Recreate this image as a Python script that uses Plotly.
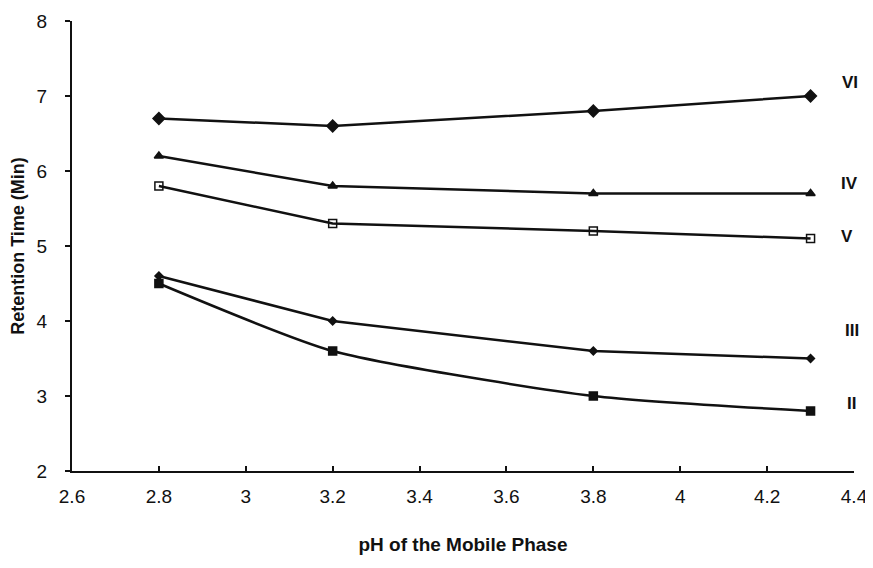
import plotly.graph_objects as go

ph = [2.8, 3.2, 3.8, 4.3]
vi = [6.7, 6.6, 6.8, 7.0]
iv = [6.2, 5.8, 5.7, 5.7]
v = [5.8, 5.3, 5.2, 5.1]
iii = [4.6, 4.0, 3.6, 3.5]
ii = [4.5, 3.6, 3.0, 2.8]

labels = ["VI", "IV", "V", "III", "II"]
label_x = [4.39, 4.39, 4.385, 4.395, 4.395]
label_y = [7.18, 5.83, 5.13, 3.88, 2.9]

INK = "#111111"
FONT = "Liberation Sans, Arial, sans-serif"

fig = go.Figure()
series = [
    (vi, "diamond", 9, INK, "linear"),
    (iv, "triangle-up", 8, INK, "linear"),
    (v, "square-open", 8, INK, "linear"),
    (iii, "diamond", 6, INK, "linear"),
    (ii, "square", 8, INK, "spline"),
]
for ys, sym, sz, col, shape in series:
    fig.add_trace(go.Scatter(
        x=ph, y=ys, mode="lines+markers",
        line=dict(color=col, width=2.5, shape=shape, smoothing=0.6),
        marker=dict(symbol=sym, size=sz, color=col,
                    line=dict(color=col, width=1.5)),
        showlegend=False,
    ))

for t, xx, yy in zip(labels, label_x, label_y):
    fig.add_annotation(x=xx, y=yy, text="<b>%s</b>" % t, showarrow=False,
                       xref="x", yref="y", xanchor="center",
                       font=dict(family=FONT, size=17, color=INK))

fig.update_layout(
    width=865, height=560,
    margin=dict(l=64, r=19, t=13, b=97),
    plot_bgcolor="white", paper_bgcolor="white",
    font=dict(family=FONT, color=INK),
)

fig.update_xaxes(
    range=[2.6, 4.4],
    tickvals=[2.6, 2.8, 3.0, 3.2, 3.4, 3.6, 3.8, 4.0, 4.2, 4.4],
    ticktext=["2.6", "2.8", "3", "3.2", "3.4", "3.6", "3.8", "4", "4.2", "4.4"],
    showgrid=False, zeroline=False, showline=True, linecolor=INK, linewidth=2,
    ticks="inside", ticklen=5, tickcolor=INK, tickwidth=1.5,
    tickfont=dict(size=19, family=FONT), ticklabelstandoff=7,
    title=dict(text="<b>pH of the Mobile Phase</b>", font=dict(size=19, family=FONT), standoff=32),
    automargin=False,
)
fig.update_yaxes(
    range=[2, 8], dtick=1,
    showgrid=False, zeroline=False, showline=True, linecolor=INK, linewidth=2,
    ticks="outside", ticklen=5, tickcolor=INK, tickwidth=1.5,
    tickfont=dict(size=19, family=FONT), ticklabelstandoff=14,
    title=dict(text="<b>Retention Time (Min)</b>", font=dict(size=18, family=FONT), standoff=18),
    automargin=False,
)

fig.write_html("out.html")
